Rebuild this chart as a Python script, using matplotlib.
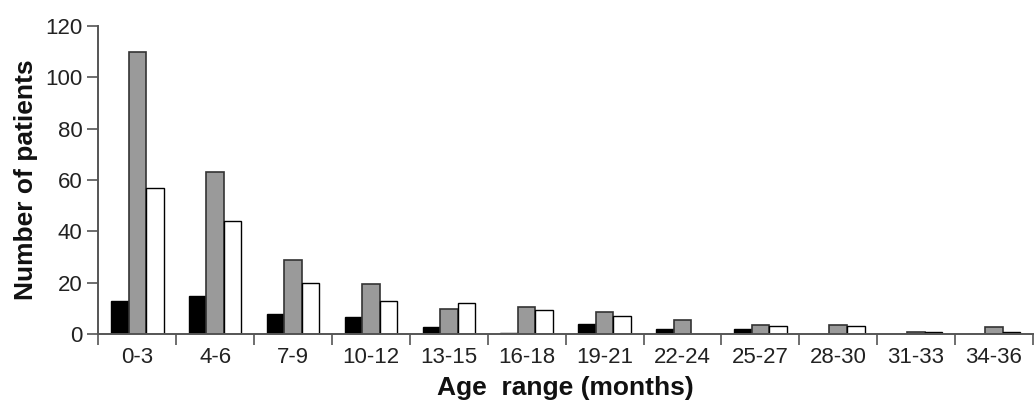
import matplotlib
matplotlib.use('Agg')
import matplotlib.pyplot as plt
import numpy as np

plt.rcParams['font.family'] = ['Liberation Sans', 'DejaVu Sans']

# age groups and patient counts per group (three series)
age_ranges = ['0-3', '4-6', '7-9', '10-12', '13-15', '16-18', '19-21',
              '22-24', '25-27', '28-30', '31-33', '34-36']
black_vals = [13, 15, 8, 6.8, 3, 0.5, 3.9, 2.2, 2.2, 0, 0.3, 0]
gray_vals = [110, 63, 29, 19.6, 10, 10.7, 8.6, 5.4, 3.7, 3.7, 0.8, 2.7]
white_vals = [57, 44, 20, 12.9, 12, 9.6, 7.1, 0, 3.2, 3.2, 0.8, 1]

fig = plt.figure(figsize=(10.35, 4.03), dpi=100)
ax = fig.add_axes([0.095, 0.1705, 0.903, 0.7655])

x = np.arange(len(age_ranges))
w = 0.225
ax.bar(x - w, black_vals, w, color='black', edgecolor='black', linewidth=1)
ax.bar(x, gray_vals, w, color='#9a9a9a', edgecolor='#333333', linewidth=1.2)
ax.bar(x + w, white_vals, w, color='white', edgecolor='black', linewidth=1)

ax.set_xlim(-0.5, len(age_ranges) - 0.5)
ax.set_ylim(0, 120)
ax.set_yticks(range(0, 121, 20))

# labels centred on groups, ticks on the group boundaries
ax.set_xticks(x)
ax.set_xticklabels(age_ranges)
ax.set_xticks(np.arange(-0.5, len(age_ranges), 1.0), minor=True)
ax.tick_params(axis='x', which='major', length=0, pad=9, labelsize=16, labelcolor='#222222')
ax.tick_params(axis='x', which='minor', length=8, width=1.2, color='#555555', direction='out')
ax.tick_params(axis='y', length=8, width=1.2, color='#555555', labelsize=16, labelcolor='#222222')

for s in ['top', 'right']:
    ax.spines[s].set_visible(False)
for s in ['left', 'bottom']:
    ax.spines[s].set_color('#555555')
    ax.spines[s].set_linewidth(1.4)

ax.set_ylabel('Number of patients', fontsize=19, fontweight='bold', color='#111111', labelpad=5)
ax.set_xlabel('Age  range (months)', fontsize=19, fontweight='bold', color='#111111', labelpad=6)

fig.savefig('out.png', dpi=100)
